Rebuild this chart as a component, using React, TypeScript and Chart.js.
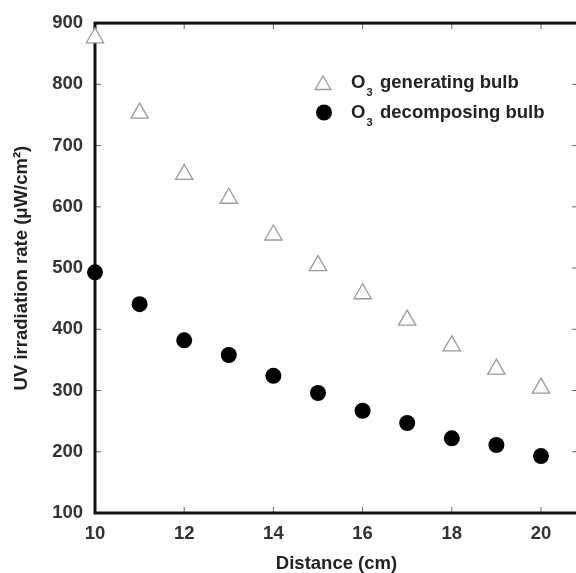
import React, { useEffect, useRef } from 'react';
import { Chart, registerables } from 'chart.js';

Chart.register(...registerables);

const distance = [10, 11, 12, 13, 14, 15, 16, 17, 18, 19, 20];
const generatingBulb = [876, 753, 653, 614, 554, 504, 458, 415, 373, 335, 304];
const decomposingBulb = [493, 441, 382, 358, 324, 296, 267, 247, 222, 211, 193];
const xTickValues = [10, 12, 14, 16, 18, 20];
const yTickValues = [100, 200, 300, 400, 500, 600, 700, 800, 900];
const xTitle = 'Distance (cm)';
const yTitle = 'UV irradiation rate (\u03bcW/cm\u00b2)';
const legendLabels = ['generating bulb', 'decomposing bulb'];

const FONT_FAMILY = '"Liberation Sans", Arial, Helvetica, sans-serif';
const FONT_SIZE = 18.5;

const framePlugin = {
  id: 'frame',
  beforeDatasetsDraw(chart: any) {
    const { ctx, chartArea } = chart;
    const { left, right, top, bottom } = chartArea;
    const xs = chart.scales.x;
    const ys = chart.scales.y;
    ctx.save();
    ctx.strokeStyle = '#666';
    ctx.lineWidth = 1;
    const tl = 6;
    xTickValues.forEach((v) => {
      const px = xs.getPixelForValue(v);
      ctx.beginPath();
      ctx.moveTo(px, bottom);
      ctx.lineTo(px, bottom - tl);
      ctx.moveTo(px, top);
      ctx.lineTo(px, top + tl);
      ctx.stroke();
    });
    yTickValues.forEach((v) => {
      const py = ys.getPixelForValue(v);
      ctx.beginPath();
      ctx.moveTo(left, py);
      ctx.lineTo(left + tl, py);
      ctx.moveTo(right, py);
      ctx.lineTo(right - tl, py);
      ctx.stroke();
    });
    ctx.strokeStyle = '#111';
    ctx.lineWidth = 3;
    ctx.strokeRect(left, top, right - left, bottom - top);
    ctx.restore();
  },
};

const legendPlugin = {
  id: 'customLegend',
  afterDraw(chart: any) {
    const { ctx } = chart;
    ctx.save();
    // triangle symbol
    const tx = 323;
    const ty = 85;
    const r = 9;
    ctx.beginPath();
    ctx.moveTo(tx, ty - r);
    ctx.lineTo(tx + r * Math.sin((2 * Math.PI) / 3), ty + r / 2);
    ctx.lineTo(tx - r * Math.sin((2 * Math.PI) / 3), ty + r / 2);
    ctx.closePath();
    ctx.fillStyle = '#fff';
    ctx.fill();
    ctx.strokeStyle = '#9a9a9a';
    ctx.lineWidth = 1.3;
    ctx.stroke();
    // circle symbol
    ctx.beginPath();
    ctx.arc(324, 112.5, 8, 0, Math.PI * 2);
    ctx.fillStyle = '#000';
    ctx.fill();

    const rows = [83, 113];
    rows.forEach((y, i) => {
      ctx.fillStyle = '#222';
      ctx.textBaseline = 'middle';
      ctx.textAlign = 'left';
      ctx.font = `bold ${FONT_SIZE}px ${FONT_FAMILY}`;
      const x0 = 351;
      ctx.fillText('O', x0, y);
      const wO = ctx.measureText('O').width;
      ctx.font = `bold 11px ${FONT_FAMILY}`;
      ctx.fillText('3', x0 + wO + 1, y + 10);
      ctx.font = `bold ${FONT_SIZE}px ${FONT_FAMILY}`;
      ctx.fillText(legendLabels[i], 380, y);
    });
    ctx.restore();
  },
};

export default function App() {
  const ref = useRef<HTMLCanvasElement>(null);

  useEffect(() => {
    const canvas = ref.current;
    if (!canvas) return;
    const tickFont = { family: FONT_FAMILY, size: FONT_SIZE, weight: 'bold' as const };
    const chart = new Chart(canvas, {
      type: 'scatter',
      data: {
        datasets: [
          {
            label: 'O3 generating bulb',
            data: distance.map((d, i) => ({ x: d, y: generatingBulb[i] })),
            pointStyle: 'triangle',
            pointRadius: 10,
            pointHoverRadius: 10,
            backgroundColor: '#ffffff',
            borderColor: '#9a9a9a',
            borderWidth: 1.3,
            clip: false as any,
          },
          {
            label: 'O3 decomposing bulb',
            data: distance.map((d, i) => ({ x: d, y: decomposingBulb[i] })),
            pointStyle: 'circle',
            pointRadius: 8,
            pointHoverRadius: 8,
            backgroundColor: '#000000',
            borderColor: '#000000',
            borderWidth: 0,
            clip: false as any,
          },
        ],
      },
      options: {
        responsive: false,
        devicePixelRatio: 1,
        animation: false,
        events: [],
        layout: { padding: { left: 0, top: 23, right: 22, bottom: 0 } },
        plugins: {
          legend: { display: false },
          tooltip: { enabled: false },
        },
        scales: {
          x: {
            type: 'linear',
            min: 10,
            max: 20.83,
            afterBuildTicks: (scale: any) => {
              scale.ticks = xTickValues.map((v) => ({ value: v }));
            },
            afterFit: (scale: any) => {
              scale.height = 60;
            },
            grid: { display: false, drawTicks: false },
            border: { display: false },
            ticks: {
              font: tickFont,
              color: '#333',
              padding: 10,
              maxRotation: 0,
              autoSkip: false,
            },
            title: {
              display: true,
              text: xTitle,
              font: { ...tickFont, lineHeight: 1 },
              color: '#222',
              padding: { top: 0, bottom: 0 },
            },
          },
          y: {
            type: 'linear',
            min: 100,
            max: 900,
            afterBuildTicks: (scale: any) => {
              scale.ticks = yTickValues.map((v) => ({ value: v }));
            },
            afterFit: (scale: any) => {
              scale.width = 95;
            },
            grid: { display: false, drawTicks: false },
            border: { display: false },
            ticks: {
              font: tickFont,
              color: '#333',
              padding: 12,
              autoSkip: false,
            },
            title: {
              display: true,
              text: yTitle,
              font: tickFont,
              color: '#222',
              padding: { top: 11, bottom: 0 },
            },
          },
        },
      },
      plugins: [framePlugin, legendPlugin],
    });
    return () => chart.destroy();
  }, []);

  return (
    <div
      style={{
        position: 'absolute',
        left: 0,
        top: 0,
        width: 576,
        height: 573,
        overflow: 'hidden',
        background: '#fff',
      }}
    >
      <canvas ref={ref} width={600} height={573} style={{ display: 'block', width: 600, height: 573 }} />
    </div>
  );
}
